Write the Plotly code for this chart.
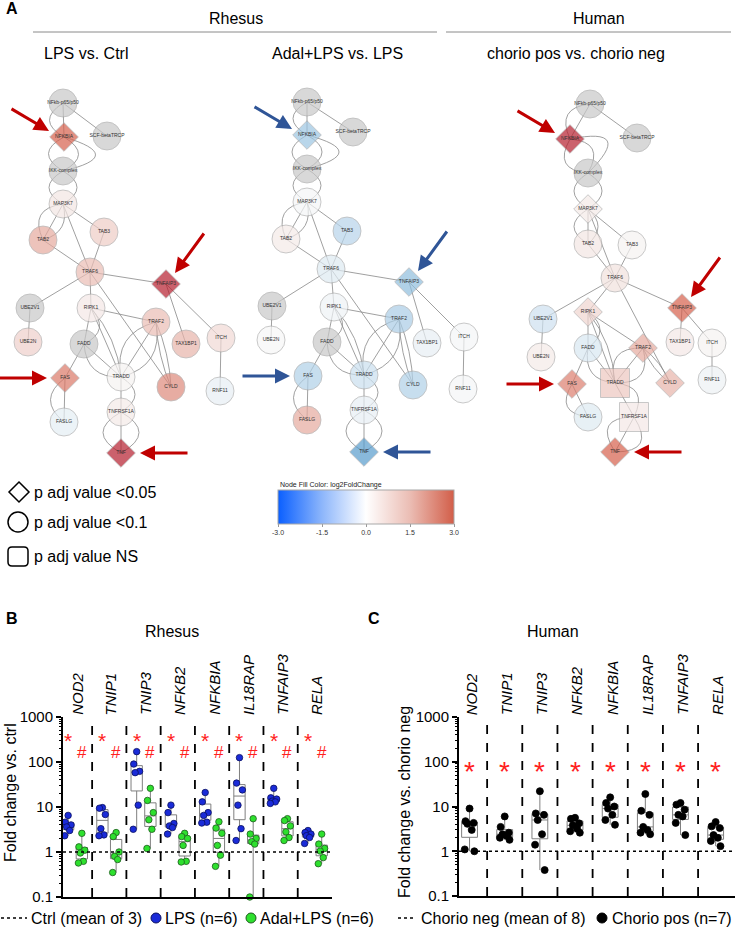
import numpy as np
import plotly.graph_objects as go

W, H = 736, 930
FONT = "Liberation Sans, Arial, sans-serif"

# ---------------- Panel A : network data ----------------
node_names = ["NFkb-p65/p50", "NFKBIA", "SCF-betaTRCP", "IKK-complex", "MAP3K7", "TAB2", "TAB3",
              "TRAF6", "TNFAIP3", "UBE2V1", "RIPK1", "TRAF2", "UBE2N", "FADD", "TAX1BP1", "ITCH",
              "FAS", "TRADD", "CYLD", "RNF11", "TNFRSF1A", "FASLG", "TNF"]

# layout positions (pixel-like network coordinates)
net1_x = [63, 64, 107, 63, 63, 43, 104, 90, 166, 30, 91, 156, 28, 84, 186, 221, 65, 121, 171, 220, 121, 64, 121]
net1_y = [103, 137, 136, 171, 204, 240, 232, 272, 284, 308, 308, 322, 342, 344, 344, 338, 378, 377, 387, 391, 412, 422, 453]
net2_x = [307, 307, 353, 307, 307, 286, 347, 331, 409, 272, 334, 399, 271, 327, 427, 464, 308, 364, 413, 463, 364, 307, 364]
net2_y = [102, 135, 132, 169, 202, 239, 231, 269, 282, 306, 307, 319, 340, 342, 343, 337, 376, 375, 385, 389, 410, 420, 452]
net3_x = [590, 570, 637, 588, 588, 588, 632, 615, 682, 543, 588, 643, 541, 588, 680, 712, 572, 615, 670, 712, 634, 588, 615]
net3_y = [104, 139, 138, 173, 209, 244, 245, 278, 308, 319, 312, 348, 357, 348, 342, 343, 384, 383, 383, 380, 417, 417, 452]

# log2 fold change (None = not measured -> grey)
net1_fc = [None, 3.0, None, None, 0.4, 1.7, 1.0, 1.3, 4.8, None, 0.35, 1.3, 0.9, None, 1.5, 0.7,
           2.6, 0.1, 2.3, -0.3, 0.3, -0.35, 4.8]
net2_fc = [None, -1.6, None, None, -0.05, 0.3, -1.2, -0.5, -1.8, None, -0.15, -1.4, 0.0, None, -0.3, -0.05,
           -1.3, -0.9, -1.3, -0.05, -0.3, 1.7, -2.6]
net3_fc = [None, 4.8, None, None, 0.3, 0.4, 0.1, 0.5, 3.0, -0.8, 0.8, 1.7, 0.3, -0.6, 0.35, 0.1,
           2.5, 1.1, 1.5, -0.2, 0.35, -0.5, 3.0]

# p adj category: d = <0.05, c = <0.1, s = NS
net1_sig = ["c", "d", "c", "c", "c", "c", "c", "c", "d", "c", "c", "c", "c", "c", "c", "c",
            "d", "c", "c", "c", "c", "c", "d"]
net2_sig = ["c", "d", "c", "c", "c", "c", "c", "c", "d", "c", "c", "c", "c", "c", "c", "c",
            "c", "c", "c", "c", "c", "c", "d"]
net3_sig = ["c", "d", "c", "c", "d", "c", "c", "c", "d", "c", "d", "d", "c", "c", "c", "c",
            "d", "s", "d", "c", "s", "c", "d"]

# edges: (source, target, bend)
edges = [
    ("NFkb-p65/p50", "NFKBIA", 0), ("NFkb-p65/p50", "NFKBIA", 14), ("NFkb-p65/p50", "SCF-betaTRCP", 0),
    ("NFKBIA", "IKK-complex", 15), ("NFKBIA", "IKK-complex", -15), ("NFKBIA", "IKK-complex", -32),
    ("IKK-complex", "MAP3K7", 14), ("IKK-complex", "MAP3K7", -14),
    ("MAP3K7", "TAB2", 0), ("MAP3K7", "TAB2", 14), ("MAP3K7", "TAB2", -10),
    ("MAP3K7", "TAB3", 0), ("MAP3K7", "TRAF6", 0), ("TAB2", "TRAF6", 0), ("TAB3", "TRAF6", 0),
    ("TRAF6", "TNFAIP3", 0), ("TRAF6", "UBE2V1", 0), ("TRAF6", "RIPK1", 0), ("TRAF6", "CYLD", 0),
    ("UBE2V1", "UBE2N", 0), ("TNFAIP3", "TAX1BP1", 0), ("TNFAIP3", "ITCH", 0), ("ITCH", "RNF11", 0),
    ("RIPK1", "TRAF2", 0), ("RIPK1", "FADD", 0), ("RIPK1", "FADD", -12),
    ("RIPK1", "TRADD", 0), ("RIPK1", "TRADD", -6),
    ("TRAF2", "TRADD", 0), ("TRAF2", "TRADD", 15), ("TRAF2", "TRADD", -15),
    ("TRAF2", "CYLD", 3), ("TRAF2", "CYLD", -3),
    ("FADD", "TRADD", 0), ("FADD", "TRADD", 12), ("FADD", "FAS", 0),
    ("FAS", "FASLG", 0), ("FAS", "FASLG", 14),
    ("TRADD", "TNFRSF1A", 0), ("TRADD", "TNFRSF1A", -14),
    ("TNFRSF1A", "TNF", 0), ("TNFRSF1A", "TNF", 18), ("TNFRSF1A", "TNF", -18),
]

# arrows: (target node, tip offset, tail offset)
arrow_targets = ["NFKBIA", "TNFAIP3", "FAS", "TNF"]
arrow_tip = [(-15, -6), (9, -11), (-18, 0), (19, 0)]
arrow_tail = [(-54, -29), (39, -52), (-67, 0), (68, 0)]
net_arrow_color = ["#C00000", "#2F5597", "#C00000"]

cbar_ticks = [-3.0, -1.5, 0.0, 1.5, 3.0]

# ---------------- Panels B / C : data ----------------
genes = ["NOD2", "TNIP1", "TNIP3", "NFKB2", "NFKBIA", "IL18RAP", "TNFAIP3", "RELA"]
rh_lps = [
    [6.5, 4.6, 4.0, 3.6, 3.0, 2.3],
    [9.7, 9.4, 6.8, 3.3, 2.4, 2.3],
    [170, 90, 62, 58, 11, 3.2],
    [11, 7.5, 4.3, 3.8, 3.5, 2.5],
    [21, 13, 7.5, 6.5, 4.6, 4.4],
    [125, 34, 24, 11, 3.3, 1.8],
    [26, 16, 15, 13.5, 13, 12],
    [3.0, 2.7, 2.5, 2.3, 2.1, 1.55],
]
rh_adal = [
    [2.6, 1.3, 1.1, 0.95, 0.62, 0.57],
    [2.7, 2.2, 1.0, 0.8, 0.68, 0.35],
    [26, 14, 7.5, 5.2, 3.2, 1.2],
    [2.6, 2.2, 2.0, 1.4, 0.62, 0.6],
    [4.7, 3.4, 2.6, 1.4, 0.85, 0.48],
    [5.5, 2.5, 2.0, 1.7, 1.5, 0.1],
    [5.5, 5.0, 3.8, 2.8, 2.1, 1.8],
    [2.5, 1.5, 1.2, 1.05, 0.75, 0.55],
]
hu_pos = [
    [9.0, 4.7, 4.3, 4.1, 3.0, 1.1, 1.0],
    [6.0, 3.5, 2.6, 2.4, 2.2, 2.0, 1.8],
    [22, 7.0, 6.5, 5.0, 2.4, 1.4, 0.38],
    [5.6, 5.3, 4.2, 3.8, 3.2, 2.8, 2.6],
    [16, 12, 10, 9, 6.5, 5.0, 3.9],
    [19, 8, 6.5, 3.5, 3.0, 2.6, 2.4],
    [12, 11, 8.5, 6.5, 6.0, 4.3, 2.3],
    [4.5, 3.6, 3.3, 2.3, 2.0, 1.7, 1.3],
]
star_level_B = 300
hash_level_B = 165
star_level_C = 60
y_tickvals = [0.1, 1, 10, 100, 1000]
y_ticktext = ["0.1", "1", "10", "100", "1000"]

# ---------------- helpers ----------------
node_scale = [(-3, (60, 138, 197)), (-2, (130, 182, 218)), (-1, (196, 220, 238)), (0, (247, 247, 247)),
              (1, (238, 204, 198)), (2, (226, 155, 142)), (3, (214, 96, 77)), (5, (178, 24, 43))]


def fc_color(v):
    if v is None:
        return "#C8C8C8"
    v = max(-3, min(5, v))
    for (a, ca), (b, cb) in zip(node_scale[:-1], node_scale[1:]):
        if a <= v <= b:
            t = (v - a) / (b - a)
            c = [round(ca[i] + t * (cb[i] - ca[i])) for i in range(3)]
            return f"rgb({c[0]},{c[1]},{c[2]})"


sym_map = {"d": "diamond", "c": "circle", "s": "square"}
size_map = {"d": 22, "c": 28, "s": 29}


def px(x):
    return x / W


def py(y):
    return 1 - y / H


fig = go.Figure()
shapes = []
annotations = []

nets = [(net1_x, net1_y, net1_fc, net1_sig), (net2_x, net2_y, net2_fc, net2_sig),
        (net3_x, net3_y, net3_fc, net3_sig)]

for k, (nx_, ny_, fc, sig) in enumerate(nets):
    pos = {n: (nx_[i], ny_[i]) for i, n in enumerate(node_names)}
    for a, b, bend in edges:
        (x0, y0), (x1, y1) = pos[a], pos[b]
        if bend == 0:
            path = f"M {x0},{y0} L {x1},{y1}"
        else:
            dx, dy = x1 - x0, y1 - y0
            L = (dx * dx + dy * dy) ** 0.5
            nxv, nyv = -dy / L, dx / L
            cx = (x0 + x1) / 2 + nxv * bend * 2
            cy = (y0 + y1) / 2 + nyv * bend * 2
            path = f"M {x0},{y0} Q {cx:.1f},{cy:.1f} {x1},{y1}"
        shapes.append(dict(type="path", path=path, xref="x", yref="y", layer="below",
                           line=dict(color="#888888", width=0.8)))
    fig.add_trace(go.Scatter(
        x=nx_, y=ny_, mode="markers+text", text=node_names, textposition="middle center",
        textfont=dict(size=5, color="#333333", family=FONT),
        marker=dict(color=[fc_color(v) for v in fc], symbol=[sym_map[s] for s in sig],
                    size=[size_map[s] for s in sig], line=dict(color="#A0A0A0", width=0.8)),
        xaxis="x", yaxis="y", showlegend=False, hoverinfo="text", cliponaxis=False))
    for t, tip, tail in zip(arrow_targets, arrow_tip, arrow_tail):
        bx, by = pos[t]
        annotations.append(dict(x=bx + tip[0], y=by + tip[1], ax=bx + tail[0], ay=by + tail[1],
                                xref="x", yref="y", axref="x", ayref="y", text="", showarrow=True,
                                arrowhead=2, arrowsize=1, arrowwidth=3, standoff=0,
                                arrowcolor=net_arrow_color[k]))

# colorbar (dummy invisible marker)
fig.add_trace(go.Scatter(
    x=[net1_x[0]], y=[net1_y[0]], mode="markers", xaxis="x", yaxis="y", showlegend=False,
    hoverinfo="skip",
    marker=dict(color=[0], cmin=-3, cmax=3, opacity=0, size=1,
                colorscale=[[0, "#0A5FFF"], [0.25, "#8DB6FB"], [0.5, "#FFFFFF"], [0.75, "#EBBDB4"],
                            [1, "#D25E49"]],
                showscale=True,
                colorbar=dict(orientation="h", x=px(366), xanchor="center", y=py(490), yanchor="top",
                              len=176, lenmode="pixels", thickness=34, thicknessmode="pixels",
                              outlinewidth=1, outlinecolor="#A8A8A8", xpad=0, ypad=0,
                              tickvals=cbar_ticks, ticktext=[f"{v:.1f}" for v in cbar_ticks],
                              ticks="outside", ticklen=3, tickcolor="#999999",
                              tickfont=dict(size=7, color="#333333", family=FONT)))))


def txt(x, y, s, size, xanchor="center", bold=False, color="black", italic=False, angle=0,
        ref="paper", yanchor="middle"):
    st = f"<b>{s}</b>" if bold else s
    d = dict(text=st, showarrow=False, font=dict(size=size, color=color, family=FONT),
             xanchor=xanchor, yanchor=yanchor, textangle=angle)
    if italic:
        d["font"]["style"] = "italic"
    if ref == "paper":
        d.update(x=px(x), y=py(y), xref="paper", yref="paper")
    else:
        d.update(x=x, y=y, xref="x", yref="y")
    annotations.append(d)


# headers panel A
txt(4, 9, "A", 16, xanchor="left", bold=True)
txt(236, 18, "Rhesus", 16)
txt(599, 18, "Human", 16)
shapes.append(dict(type="line", xref="paper", yref="paper", x0=px(33), x1=px(437), y0=py(32), y1=py(32),
                   line=dict(color="#8A8A8A", width=1)))
shapes.append(dict(type="line", xref="paper", yref="paper", x0=px(446), x1=px(731), y0=py(32), y1=py(32),
                   line=dict(color="#8A8A8A", width=1)))
txt(42, 53, "LPS vs. Ctrl", 16, xanchor="left")
txt(270, 53, "Adal+LPS vs. LPS", 16, xanchor="left")
txt(485, 53, "chorio pos vs. chorio neg", 16, xanchor="left")
txt(278, 485, "Node Fill Color: log2FoldChange", 7, xanchor="left", color="#222222")

# shape legend
shapes.append(dict(type="path", xref="x", yref="y", path="M 19,482 L 29,492 L 19,502 L 9,492 Z",
                   line=dict(color="black", width=1.5)))
shapes.append(dict(type="circle", xref="x", yref="y", x0=8, x1=28, y0=512, y1=532,
                   line=dict(color="black", width=1.5)))
shapes.append(dict(type="path", xref="x", yref="y",
                   path="M 12,547 L 24,547 Q 28,547 28,551 L 28,562 Q 28,566 24,566 L 12,566 "
                        "Q 8,566 8,562 L 8,551 Q 8,547 12,547 Z",
                   line=dict(color="black", width=1.5)))
txt(32, 492, "p adj value <0.05", 16, xanchor="left", ref="x")
txt(32, 522, "p adj value <0.1", 16, xanchor="left", ref="x")
txt(32, 556, "p adj value NS", 16, xanchor="left", ref="x")


# ---------------- Panels B and C ----------------
def box_stats(v):
    a = np.asarray(v, dtype=float)
    return (np.percentile(a, 25), np.median(a), np.percentile(a, 75), a.min(), a.max())


jit = [0.0, -0.085, 0.085, -0.045, 0.045, -0.1, 0.1]


def add_group(xs, data, width, xa, ya, color, lcolor, msize):
    st = [box_stats(v) for v in data]
    fig.add_trace(go.Box(
        x=xs, q1=[s[0] for s in st], median=[s[1] for s in st], q3=[s[2] for s in st],
        lowerfence=[s[3] for s in st], upperfence=[s[4] for s in st], width=width,
        boxpoints=False, whiskerwidth=0, fillcolor="rgba(255,255,255,0)",
        line=dict(color="#7F7F7F", width=1), xaxis=xa, yaxis=ya, showlegend=False, hoverinfo="skip"))
    px_, py_ = [], []
    for x0, vals in zip(xs, data):
        order = sorted(vals, reverse=True)
        for j, v in enumerate(order):
            px_.append(x0 + jit[j % len(jit)] * width / 0.33)
            py_.append(v)
    fig.add_trace(go.Scatter(x=px_, y=py_, mode="markers", xaxis=xa, yaxis=ya, showlegend=False,
                             cliponaxis=False,
                             marker=dict(size=msize, color=color, line=dict(color=lcolor, width=0.8))))


ng = len(genes)
centers = list(range(ng))
add_group([c - 0.2 for c in centers], rh_lps, 0.33, "x2", "y2", "#1A2BD8", "#0A1060", 6.5)
add_group([c + 0.2 for c in centers], rh_adal, 0.33, "x2", "y2", "#2EE02E", "#1E5A1E", 6.5)
add_group(centers, hu_pos, 0.45, "x3", "y3", "#000000", "#000000", 7)

for xa, ya, xr in (("x2", "y2", [-0.35, 7.5]), ("x3", "y3", [-0.3, 7.55])):
    fig.add_trace(go.Scatter(x=xr, y=[1, 1], mode="lines", xaxis=xa, yaxis=ya, showlegend=False,
                             line=dict(color="black", width=1.3, dash="dot"), hoverinfo="skip"))
    for c in centers[:-1]:
        fig.add_trace(go.Scatter(x=[c + 0.5, c + 0.5], y=[0.1, 1000], mode="lines", xaxis=xa, yaxis=ya,
                                 showlegend=False, line=dict(color="black", width=1.8, dash="dash"),
                                 hoverinfo="skip"))

for c, g in zip(centers, genes):
    for xr_, yr_ in (("x2", "y2"), ("x3", "y3")):
        annotations.append(dict(x=c + 0.05, y=3, xref=xr_, yref=yr_, text=g, showarrow=False, textangle=-90,
                                xanchor="center", yanchor="bottom",
                                font=dict(size=15, style="italic", family=FONT, color="black")))
    annotations.append(dict(x=c - 0.2, y=np.log10(star_level_B), xref="x2", yref="y2", text="*",
                            showarrow=False, font=dict(size=21, color="#FF2020", family=FONT)))
    annotations.append(dict(x=c + 0.2, y=np.log10(hash_level_B), xref="x2", yref="y2", text="#",
                            showarrow=False, font=dict(size=17, color="#FF2020", family=FONT)))
    annotations.append(dict(x=c, y=np.log10(star_level_C), xref="x3", yref="y3", text="*",
                            showarrow=False, font=dict(size=28, color="#FF2020", family=FONT)))

minor_vals = [m * 10.0 ** e for e in range(-1, 3) for m in range(2, 10)]
yax = dict(type="log", range=[-1, 3], tickvals=y_tickvals, ticktext=y_ticktext, showline=True,
           linecolor="black", linewidth=2, ticks="outside", ticklen=5, tickwidth=2, tickcolor="black",
           showgrid=False, zeroline=False, tickfont=dict(size=15, family=FONT, color="black"),
           automargin=False,
           minor=dict(tickvals=minor_vals, ticks="outside", ticklen=2.5, tickwidth=1, tickcolor="black"))
xax = dict(showline=True, linecolor="black", linewidth=2, ticks="", showticklabels=False,
           showgrid=False, zeroline=False, automargin=False)

txt(4, 618, "B", 16, xanchor="left", bold=True)
txt(366, 618, "C", 16, xanchor="left", bold=True)
txt(172, 631, "Rhesus", 16)
txt(553, 631, "Human", 16)
txt(10, 793, "Fold change vs. ctrl", 16, angle=-90)
txt(404, 802, "Fold change vs. chorio neg", 16, angle=-90)

# legends B and C
shapes.append(dict(type="line", xref="paper", yref="paper", x0=px(1), x1=px(27), y0=py(918), y1=py(918),
                   line=dict(color="black", width=1.3, dash="dot")))
txt(29, 918, "Ctrl (mean of 3)", 16, xanchor="left")
shapes.append(dict(type="circle", xref="paper", yref="paper", x0=px(151), x1=px(161), y0=py(913), y1=py(923),
                   fillcolor="#1A2BD8", line=dict(color="#0A1060", width=1)))
txt(163, 918, "LPS (n=6)", 16, xanchor="left")
shapes.append(dict(type="circle", xref="paper", yref="paper", x0=px(246), x1=px(256), y0=py(913), y1=py(923),
                   fillcolor="#2EE02E", line=dict(color="#1E5A1E", width=1)))
txt(258, 918, "Adal+LPS (n=6)", 16, xanchor="left")
shapes.append(dict(type="line", xref="paper", yref="paper", x0=px(398), x1=px(414), y0=py(918), y1=py(918),
                   line=dict(color="black", width=1.3, dash="dot")))
txt(419, 918, "Chorio neg (mean of 8)", 16, xanchor="left")
shapes.append(dict(type="circle", xref="paper", yref="paper", x0=px(597), x1=px(607), y0=py(913), y1=py(923),
                   fillcolor="black", line=dict(color="black", width=1)))
txt(610, 918, "Chorio pos (n=7)", 16, xanchor="left")

fig.update_layout(
    width=W, height=H, margin=dict(l=0, r=0, t=0, b=0, pad=0, autoexpand=False),
    paper_bgcolor="white", plot_bgcolor="white",
    font=dict(family=FONT, color="black"),
    xaxis=dict(domain=[0, 1], range=[0, W], visible=False, fixedrange=True, automargin=False),
    yaxis=dict(domain=[1 - 580 / H, 1], range=[580, 0], visible=False, fixedrange=True, automargin=False),
    xaxis2=dict(domain=[px(63), px(332)], anchor="y2", range=[-0.35, 7.5], **xax),
    yaxis2=dict(domain=[py(897), py(717)], anchor="x2", **yax),
    xaxis3=dict(domain=[px(459), px(735)], anchor="y3", range=[-0.3, 7.55], **xax),
    yaxis3=dict(domain=[py(896), py(717)], anchor="x3", **yax),
    shapes=shapes, annotations=annotations,
)

fig.write_html("out.html", config={"displayModeBar": False},
               post_script="document.body.style.margin='0px';")
